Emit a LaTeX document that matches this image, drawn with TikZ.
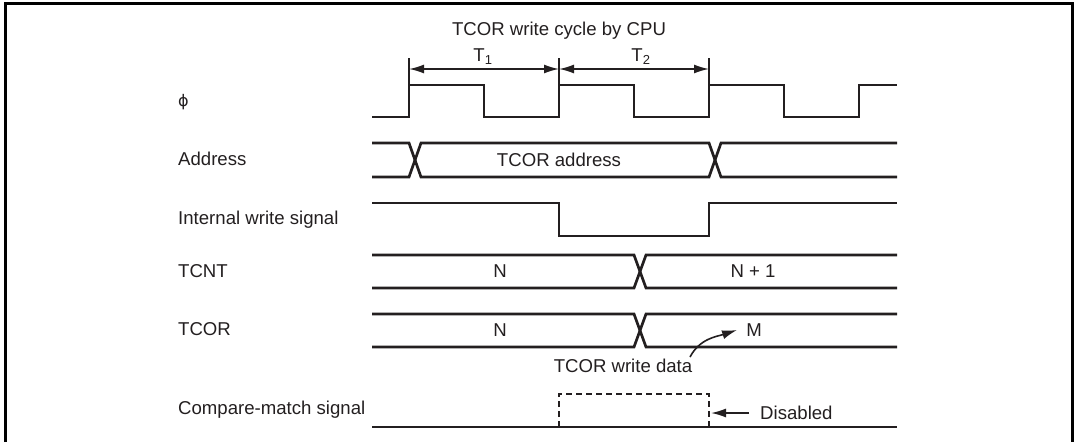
\documentclass[tikz,border=0pt]{standalone}
\usepackage{fontspec}
\setmainfont{Liberation Sans}
\newfontfamily\dvsans{DejaVu Sans}
\usetikzlibrary{arrows.meta}
\definecolor{ink}{HTML}{231F20}
\begin{document}
\begin{tikzpicture}[x=1pt,y=-1pt,
  every node/.style={font=\fontsize{18.6}{22}\selectfont, text=ink, inner sep=0pt},
  lbl/.style={anchor=west},
  sig/.style={line width=2.7pt, line join=miter, draw=ink},
  frame/.style={line width=3pt, draw=black},
  dim/.style={line width=1.6pt, draw=ink, {Latex[length=15pt,width=9pt]}-{Latex[length=15pt,width=9pt]}},
  tick/.style={line width=1.6pt, draw=ink},
  pointer/.style={line width=1.6pt, draw=ink, -{Latex[length=15pt,width=9pt]}},
  dashbox/.style={line width=2.6pt, draw=ink, dash pattern=on 6pt off 4pt}]
\useasboundingbox (0,0) rectangle (1076,442);
% frame (open at bottom)
\draw[frame] (5,442) -- (5,3) -- (1072,3) -- (1072,442);
% left labels
\node[lbl] (lphi) at (178,102) {\dvsans\fontsize{16}{20}\selectfont ϕ};
\node[lbl] (laddr) at (178,159) {Address};
\node[lbl] (lwr) at (178,220) {Internal write signal};
\node[lbl] (ltcnt) at (178,271) {TCNT};
\node[lbl] (ltcor) at (178,329) {TCOR};
\node[lbl] (lcmp) at (178,410) {Compare-match signal};
% title and cycle markers
\node (title) at (559,31) {TCOR write cycle by CPU};
\coordinate (k1) at (409,69);
\coordinate (k2) at (559,69);
\coordinate (k3) at (709,69);
\draw[tick] (409,58) -- (409,85);
\draw[tick] (559,58) -- (559,85);
\draw[tick] (709,58) -- (709,85);
\draw[dim] (k1) -- (k2);
\draw[dim] (k2) -- (k3);
\node (t1) at (483,57) {T\textsubscript{1}};
\node (t2) at (641,57) {T\textsubscript{2}};
% clock
\draw[sig] (372,117) -- (409,117) -- (409,85) -- (484,85) -- (484,117) -- (559,117) -- (559,85)
  -- (634,85) -- (634,117) -- (709,117) -- (709,85) -- (784,85) -- (784,117) -- (859,117)
  -- (859,85) -- (897,85);
% address bus
\draw[sig] (372,143) -- (409,143) -- (421,177) -- (709,177) -- (721,143) -- (897,143);
\draw[sig] (372,177) -- (409,177) -- (421,143) -- (709,143) -- (721,177) -- (897,177);
\node (addr) at (559,160) {TCOR address};
% internal write
\draw[sig] (372,203) -- (559,203) -- (559,236) -- (709,236) -- (709,203) -- (897,203);
% TCNT
\draw[sig] (372,255) -- (634,255) -- (646,288) -- (897,288);
\draw[sig] (372,288) -- (634,288) -- (646,255) -- (897,255);
\node (tcntn) at (500,271) {N};
\node (tcntn1) at (753,271) {N + 1};
% TCOR
\draw[sig] (372,314) -- (634,314) -- (646,347) -- (897,347);
\draw[sig] (372,347) -- (634,347) -- (646,314) -- (897,314);
\node (tcorn) at (500,330) {N};
\node (tcorm) at (754,330) {M};
\node (wdata) at (623,366) {TCOR write data};
\draw[pointer] (690,357) to[out=62,in=198] ([xshift=-9pt]tcorm.west);
% compare match
\draw[sig] (372,427) -- (897,427);
\draw[dashbox] (559,427) -- (559,394) -- (709,394) -- (709,427);
\node[anchor=west] (dis) at (760,413) {Disabled};
\coordinate (distip) at (711,413);
\draw[pointer] ([xshift=-11pt]dis.west) -- (distip);
\end{tikzpicture}
\end{document}
